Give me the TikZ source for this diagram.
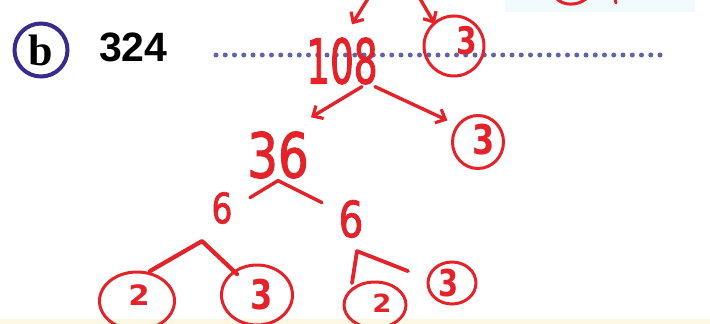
\documentclass[tikz,border=0pt]{standalone}
\usepackage{fontspec}
\setmainfont{Liberation Serif}
\newfontfamily\labfont{Liberation Sans}
\newfontfamily\handfont[FakeStretch=0.6,FakeBold=1.5]{DejaVu Sans}
\newfontfamily\handmid[FakeStretch=0.78,FakeBold=1.5]{DejaVu Sans}
\newfontfamily\handwide[FakeStretch=0.78]{DejaVu Sans Bold}
\newfontfamily\handflat[FakeStretch=1.1]{DejaVu Sans Bold}
\usetikzlibrary{arrows.meta,calc,shapes.geometric}
\definecolor{pen}{HTML}{E3222A}
\definecolor{purp}{HTML}{3A2A8A}
\definecolor{dotc}{HTML}{6262AA}
\definecolor{bandy}{HTML}{FCF8E3}
\definecolor{bandc}{HTML}{F1FAFC}
\tikzset{
  digit/.style={text=pen, inner sep=0pt},
  ring/.style={draw=pen, line width=3pt, ellipse, inner sep=0pt},
  penline/.style={draw=pen, line width=3.4pt, line cap=round, line join=round},
  penarrow/.style={penline, -{Straight Barb[length=8pt,width=15pt,line width=3.2pt]}},
}
\newcommand{\hf}[1]{\handfont\fontsize{#1}{#1}\selectfont}
\newcommand{\hm}[1]{\handmid\fontsize{#1}{#1}\selectfont}
\newcommand{\hw}[1]{\handwide\fontsize{#1}{#1}\selectfont}
\newcommand{\hl}[1]{\handflat\fontsize{#1}{#1}\selectfont}
\begin{document}
\begin{tikzpicture}[x=1pt,y=-1pt]
\useasboundingbox (0,0) rectangle (710,324);
\fill[bandc] (505,0) rectangle (695,12);
\fill[bandy] (0,319) rectangle (710,324);

% label and number
\node[draw=purp, line width=4pt, circle, minimum size=53pt, inner sep=0pt,
      font=\fontsize{44}{44}\selectfont\bfseries] (b) at (41,50) {b};
\node[anchor=west, inner sep=0pt, font=\labfont\bfseries\fontsize{41}{41}\selectfont] (num) at (99,47) {324};
\coordinate (dl) at (216,55);
\coordinate (dr) at (660,55);
\draw[dotc, line width=5pt, line cap=round, dash pattern=on 0pt off 9.25pt] (dl) -- (dr);

% top-right cut stroke
\draw[penline, line width=3pt] (556,-2) .. controls (563,6) and (577,6) .. (586,-1);
\draw[penline, line width=3pt] (615,-1) -- (616,3);

% tree numbers
\node[digit, font=\hf{62}] (n108) at (342,61) {108};
\node[digit, font=\hm{62}] (n36) at (278,155) {36};
\node[digit, font=\hm{42}] (n6a) at (222,208) {6};
\node[digit, font=\hm{50}] (n6b) at (351,219) {6};

% circled primes
\node[ring, minimum width=60pt, minimum height=60pt] (r3a) at (454,46) {};
\node[digit, font=\hw{38}] (d3a) at (467,41) {3};
\node[ring, minimum width=51pt, minimum height=53pt] (r3b) at (478,142) {};
\node[digit, font=\hw{41}] (d3b) at (484,140) {3};
\node[ring, minimum width=75pt, minimum height=58pt] (r2a) at (137,301) {};
\node[digit, font=\hl{28}] (d2a) at (139,295) {2};
\node[ring, minimum width=71pt, minimum height=60pt] (r3c) at (257,295) {};
\node[digit, font=\hw{41}] (d3c) at (262,295) {3};
\node[ring, minimum width=62pt, minimum height=46pt] (r2b) at (375,305) {};
\node[digit, font=\hl{25}] (d2b) at (382,303) {2};
\node[ring, minimum width=48pt, minimum height=42pt] (r3d) at (452,283) {};
\node[digit, font=\hw{37}] (d3d) at (449,283) {3};

% arrows from above
\coordinate (t1) at (369,-3);
\coordinate (t2) at (419,-3);
\draw[penarrow] (t1) -- ($(n108.north)+(10,-13)$);
\draw[penarrow] (t2) -- ($(r3a.130)+(1,2)$);

% arrows from 108
\draw[penarrow] ($(n108.south)+(20,2)$) -- ($(n36.north east)+(2,-14)$);
\draw[penarrow] ($(n108.south)+(33,2)$) -- ($(r3b.150)+(-7,-8)$);

% branches
\draw[penline] ($(n36.south)+(-28,19)$) -- ($(n36.south)+(0,2)$) -- ($(n36.south)+(44,24)$);
\draw[penline, line width=4.2pt] ($(n6a.south)+(-72,47)$) -- ($(n6a.south)+(-20,17)$) -- ($(n6a.south)+(15,50)$);
\draw[penline, line width=3.8pt] ($(n6b.south)+(1,45)$) -- ($(n6b.south)+(6,13)$) -- ($(n6b.south)+(57,33)$);
\end{tikzpicture}
\end{document}
